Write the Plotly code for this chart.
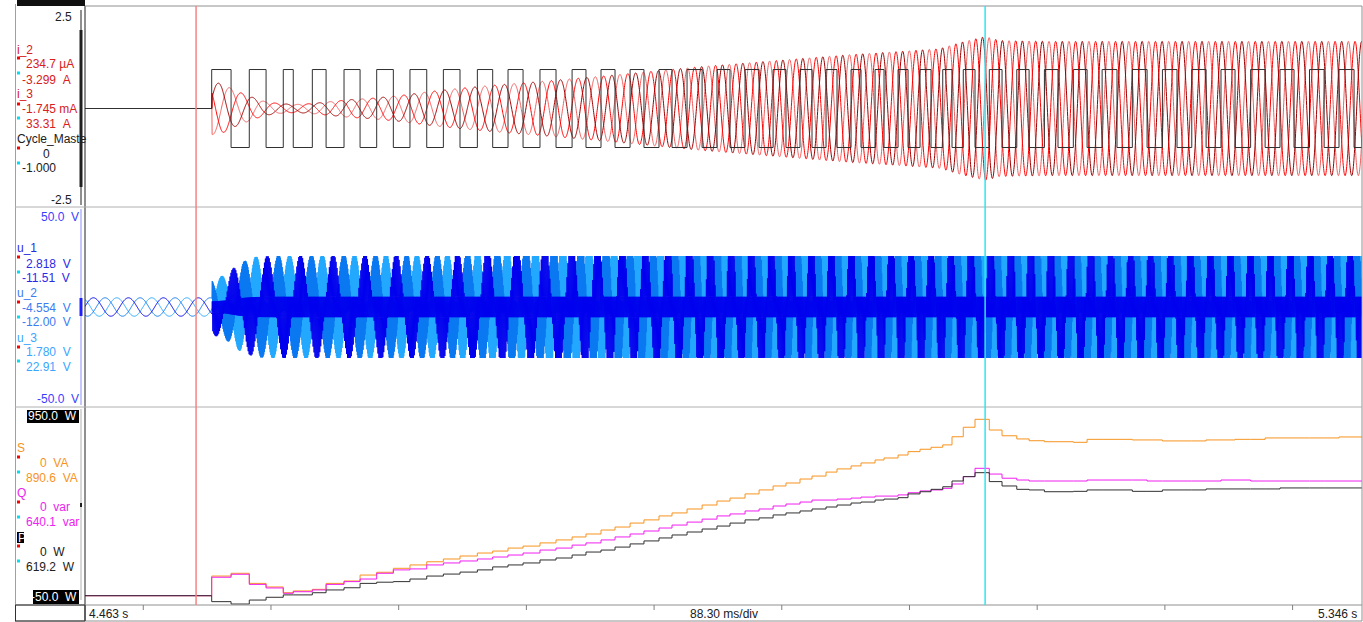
import numpy as np
import plotly.graph_objects as go

# ---------------- data ----------------
T0_S = 4.463            # left edge of record [s]
T_END_S = 5.346         # right edge [s]
SPAN_MS = 883.0         # 10 div x 88.30 ms
START_MS = 87.8         # drive start (ms after left edge)
CURSOR_RED_MS = 76.8
CURSOR_CYAN_MS = 622.4
TICK_MS = [40.3, 128.6, 216.9, 305.2, 393.5, 481.8, 570.1, 658.4, 746.7, 835.0]

# Cycle_Master edges (alternating: rise, fall, rise, ...), ms after left edge
CYCLE_EDGE_MS = [87.6, 101.0, 113.6, 125.2, 137.1, 144.0, 157.2, 166.7, 179.1, 190.2,
                 201.7, 213.2, 224.7, 236.3, 247.8, 259.3, 271.3, 281.9, 292.5, 302.9,
                 314.6, 325.7, 336.8, 346.4, 356.8, 366.5, 376.9, 386.5, 396.9, 405.9,
                 416.3, 426.7, 437.0, 446.0, 456.4, 466.1, 475.8, 484.7, 494.4, 502.7,
                 512.4, 520.0, 529.7, 536.6, 546.3, 552.5, 562.2, 569.1, 577.4, 585.0,
                 593.1, 599.5, 607.3, 615.4, 625.3, 634.1, 644.3, 652.8, 663.4, 672.8,
                 683.4, 692.9, 703.3, 713.6, 724.2, 734.4, 745.0, 755.1, 765.3, 775.2,
                 785.5, 795.2, 806.0, 816.0, 826.3, 836.0, 846.7, 856.8, 867.1, 877.5]
CYCLE_LEVELS = [-0.97, 0.0, 0.97]   # low, idle, high

# power values after each Cycle_Master edge
S_VA = [99, 113, 62, 44, 15, 24, 32, 62, 74, 104,
        118, 138, 155, 171, 185, 200, 215, 225, 240, 250,
        266, 281, 296, 311, 331, 346, 366, 382, 402, 417,
        437, 457, 477, 492, 513, 533, 553, 568, 588, 603,
        623, 639, 654, 669, 684, 694, 709, 726, 738, 748,
        760, 801, 849, 889, 835, 806, 790, 781, 776, 776,
        773, 788, 788, 788, 785, 785, 780, 780, 780, 785,
        785, 788, 788, 795, 795, 795, 795, 795, 800, 800]
Q_VAR = [93, 108, 57, 39, 12, 20, 29, 57, 71, 84,
         113, 130, 135, 155, 165, 175, 185, 195, 205, 215,
         230, 240, 255, 266, 281, 296, 311, 326, 341, 356,
         371, 386, 402, 412, 427, 437, 452, 462, 472, 482,
         482, 487, 492, 497, 502, 502, 508, 519, 528, 533,
         541, 563, 600, 642, 613, 592, 583, 578, 578, 578,
         578, 583, 583, 583, 583, 578, 578, 578, 578, 578,
         583, 583, 578, 578, 578, 578, 578, 578, 578, 578]
P_W = [-30, -42, -22, -8, 4, 4, 15, 29, 40, 62,
       68, 71, 84, 99, 109, 119, 130, 145, 155, 165,
       180, 190, 205, 220, 230, 245, 261, 276, 291, 306,
       321, 336, 351, 366, 382, 392, 407, 417, 427, 437,
       447, 457, 467, 472, 482, 487, 494, 513, 524, 536,
       549, 578, 600, 620, 575, 553, 536, 533, 524, 524,
       526, 533, 533, 533, 526, 526, 533, 533, 533, 538,
       538, 538, 538, 538, 543, 543, 543, 543, 543, 543]

# fundamental period of the drive (ms)
FUND_T_MS = [0.0, 87.8, 145.2, 217.8, 273.2, 328.5, 383.8, 425.3, 466.8, 883.0]
FUND_PERIOD_MS = [24.2, 24.2, 22.8, 21.4, 20.7, 18.7, 15.9, 14.5, 13.8, 13.8]

# current envelope (display units of the top panel)
I_ENV_T_MS = [87.8, 94.7, 103.7, 114.1, 124.5, 134.8, 145.2, 155.6, 169.4, 183.2,
              197.1, 217.8, 238.6, 259.3, 280.1, 314.6, 356.1, 390.7, 425.3, 459.8,
              494.4, 529.0, 563.6, 591.2, 605.1, 622.4, 632.7, 667.3, 883.0]
I_ENV_AMP = [0.65, 0.62, 0.45, 0.30, 0.17, 0.12, 0.10, 0.12, 0.17, 0.22,
             0.25, 0.32, 0.42, 0.50, 0.57, 0.67, 0.80, 0.92, 1.04, 1.14,
             1.24, 1.34, 1.42, 1.49, 1.64, 1.79, 1.69, 1.67, 1.67]

# voltages
U_PRE_AMP_V = 4.6
U_ENV_T_MS = [87.8, 96.8, 107.1, 117.5, 131.3, 883.0]
U_ENV_V = [14.0, 16.0, 22.0, 25.0, 25.5, 25.5]
U_GAIN_T_MS = [87.8, 252.4, 356.1, 425.3, 883.0]
U_GAIN = [1.0, 1.1, 1.5, 1.8, 1.8]

# ---------------- build traces ----------------
def to_s(ms):
    return T0_S + np.asarray(ms) / 1000.0

FONT = "Liberation Sans, Arial, sans-serif"
fig = go.Figure()

# phase of the fundamental
t = np.arange(0.0, SPAN_MS, 0.17)
per = np.interp(t, FUND_T_MS, FUND_PERIOD_MS)
theta = 2 * np.pi * np.cumsum(np.gradient(t) / per)
on = t >= START_MS

# currents
env = np.interp(t, I_ENV_T_MS, I_ENV_AMP) * on
i_cols = [("i_1", "#f06060"), ("i_2", "#ff0000"), ("i_3", "#a00000")]
for k, (nm, col) in enumerate(i_cols):
    y = env * np.sin(theta - 2 * np.pi * k / 3 + 0.6)
    fig.add_trace(go.Scatter(x=to_s(t), y=y, mode="lines", name=nm, yaxis="y",
                             line=dict(color=col, width=1, simplify=False), hoverinfo="skip"))

# Cycle_Master square wave
cx = [0.0]
cy = [CYCLE_LEVELS[1]]
for n, e in enumerate(CYCLE_EDGE_MS):
    cx.append(e)
    cy.append(CYCLE_LEVELS[2] if n % 2 == 0 else CYCLE_LEVELS[0])
cx.append(SPAN_MS)
cy.append(cy[-1])
fig.add_trace(go.Scatter(x=to_s(cx), y=cy, mode="lines", name="Cycle_Master", yaxis="y",
                         line=dict(color="#303030", width=1, shape="hv"), hoverinfo="skip"))

# voltages: pre-start sine + PWM bands after start
tu = np.arange(0.0, SPAN_MS, 0.22)
peru = np.interp(tu, FUND_T_MS, FUND_PERIOD_MS)
thu = 2 * np.pi * np.cumsum(np.gradient(tu) / peru)
uenv = np.interp(tu, U_ENV_T_MS, U_ENV_V)
gain = np.interp(tu, U_GAIN_T_MS, U_GAIN)
pre = tu < START_MS
u_cols = [("u_3", "#22a8ff", 2), ("u_2", "#0a78f0", 1), ("u_1", "#0000ee", 0)]
idx = np.arange(len(tu))
for nm, col, k in u_cols:
    s = np.sin(thu - 2 * np.pi * k / 3)
    m = np.clip(gain * s, -1, 1)
    if k == 0:
        lv = np.select([idx % 3 == 0, idx % 3 == 1], [uenv * m, 0.2 * uenv], -0.2 * uenv)
    else:
        lv = np.where(idx % 2 == 0, uenv * m, -0.12 * uenv * m)
    y = np.where(pre, U_PRE_AMP_V * s, lv)
    fig.add_trace(go.Scatter(x=to_s(tu), y=y, mode="lines", name=nm, yaxis="y2",
                             line=dict(color=col, width=1, simplify=False), hoverinfo="skip"))

# powers
px_ = [0.0] + CYCLE_EDGE_MS + [SPAN_MS]
for nm, vals, col in [("S", S_VA, "#f7931e"), ("Q", Q_VAR, "#f01ef0"), ("P", P_W, "#303030")]:
    yy = [0] + list(vals) + [vals[-1]]
    fig.add_trace(go.Scatter(x=to_s(px_), y=yy, mode="lines", name=nm, yaxis="y3",
                             line=dict(color=col, width=1, shape="hv"), hoverinfo="skip"))

# ---------------- layout helpers (pixel placement of decorations) ----------------
def PX(x):
    return (x - 85) / 1277.0

def PY(y):
    return (605 - y) / 599.0

shapes = []
anns = []

def hline(x0, x1, y, color, w=1):
    shapes.append(dict(type="line", xref="paper", yref="paper", x0=PX(x0), x1=PX(x1),
                       y0=PY(y), y1=PY(y), line=dict(color=color, width=w), layer="above"))

def vline(x, y0, y1, color, w=1):
    shapes.append(dict(type="line", xref="paper", yref="paper", x0=PX(x), x1=PX(x),
                       y0=PY(y0), y1=PY(y1), line=dict(color=color, width=w), layer="above"))

def rect(x0, x1, y0, y1, fill, line=None):
    shapes.append(dict(type="rect", xref="paper", yref="paper", x0=PX(x0), x1=PX(x1),
                       y0=PY(y0), y1=PY(y1), fillcolor=fill,
                       line=dict(color=line or fill, width=1 if line else 0), layer="above"))

def text(s, x, y, color, anchor="left", size=12):
    anns.append(dict(text=s.replace(" ", "\u00a0"), x=PX(x), y=PY(y), xref="paper", yref="paper",
                     xanchor=anchor, yanchor="middle", showarrow=False, borderpad=0,
                     font=dict(family=FONT, size=size, color=color)))

def sq(y, color):
    rect(17, 20, y - 1.5, y + 1.5, color)

RED_SQ, CY_SQ = "#ff0000", "#00e0f0"

# frames
vline(15.5, 4, 622, "#a0a0a0")
vline(85, 6, 621, "#202020")
vline(1362, 6, 621, "#909090")
hline(85, 1362, 6, "#909090")
hline(15, 1362, 207, "#b0b0b0")
hline(15, 1362, 407, "#b0b0b0")
hline(15, 1362, 605, "#909090")
hline(15, 1362, 621, "#909090")
rect(15.5, 85, 605, 621, "rgba(0,0,0,0)", "#303030")
rect(17, 85, 0, 6, "#101010")
for tm in TICK_MS:
    shapes.append(dict(type="line", xref="x", yref="paper", x0=T0_S + tm / 1000, x1=T0_S + tm / 1000,
                       y0=PY(605), y1=PY(610), line=dict(color="#808080", width=1)))

# scale bars
vline(81, 10, 205, "#202020")
vline(81, 30, 187, "#202020", 3)
vline(81, 209, 405, "#8c8cff")
vline(81, 298, 316, "#2020ff", 3)
vline(81, 409, 600, "#b0b0b0")
vline(81, 503, 507, "#202020", 2)

# cursors
for tm, col in [(CURSOR_RED_MS, "#f48484"), (CURSOR_CYAN_MS, "#30e4f4")]:
    shapes.append(dict(type="line", xref="x", yref="paper", x0=T0_S + tm / 1000, x1=T0_S + tm / 1000,
                       y0=PY(605), y1=PY(6), line=dict(color=col, width=1.5), layer="above"))

# top panel labels
IRED = "#d82020"
text("2.5", 73, 17, "#202020", "right")
text("i_2", 16, 50, IRED)
sq(58, RED_SQ); text("234.7 µA", 25, 64, IRED)
sq(73, CY_SQ); text("-3.299  A", 21, 80, IRED)
text("i_3", 16, 94, IRED)
sq(104, RED_SQ); text("-1.745 mA", 21, 109, IRED)
sq(118, CY_SQ); text("33.31  A", 25, 124, IRED)
text("Cycle_Maste", 16, 139, "#202020")
sq(148, RED_SQ); text("0", 42, 154, "#202020")
sq(163, CY_SQ); text("-1.000", 21, 168, "#202020")
text("-2.5", 73, 200, "#202020", "right")

# middle panel labels
text("50.0  V", 80, 217, "#3c3cff", "right")
U1, U2, U3 = "#2a2ae6", "#3c7cf2", "#3aa6ff"
text("u_1", 16, 248, U1)
sq(257, RED_SQ); text("2.818  V", 25, 264, U1)
sq(272, CY_SQ); text("-11.51  V", 21, 278, U1)
text("u_2", 16, 293, U2)
sq(302, RED_SQ); text("-4.554  V", 21, 308, U2)
sq(317, CY_SQ); text("-12.00  V", 21, 322, U2)
text("u_3", 16, 338, U3)
sq(347, RED_SQ); text("1.780  V", 25, 352, U3)
sq(361, CY_SQ); text("22.91  V", 25, 367, U3)
text("-50.0  V", 80, 399, "#3c3cff", "right")

# bottom panel labels
rect(27, 79, 410, 423, "#000000")
text("950.0  W", 78, 416.5, "#ffffff", "right")
SC, QC = "#f7931e", "#ee22ee"
text("S", 16, 448, SC)
sq(457, RED_SQ); text("0  VA", 39, 463, SC)
sq(472, CY_SQ); text("890.6  VA", 25, 478, SC)
text("Q", 16, 493, QC)
sq(502, RED_SQ); text("0  var", 39, 507, QC)
sq(517, CY_SQ); text("640.1  var", 25, 522, QC)
rect(17, 24, 532, 543, "#000000")
text("P", 17, 537.5, "#ffffff")
sq(546, RED_SQ); text("0  W", 39, 552, "#202020")
sq(561, CY_SQ); text("619.2  W", 25, 567, "#202020")
rect(33, 79, 590, 604, "#000000")
text("-50.0  W", 78, 597, "#ffffff", "right")

# time strip
text("4.463 s", 88, 613.5, "#202020")
text("88.30 ms/div", 724, 613.5, "#202020", "center")
text("5.346 s", 1358, 613.5, "#202020", "right")

fig.update_layout(
    width=1363, height=622,
    margin=dict(l=85, r=1, t=6, b=17),
    paper_bgcolor="white", plot_bgcolor="white",
    showlegend=False,
    xaxis=dict(range=[T0_S, T0_S + SPAN_MS / 1000], domain=[0, 1], anchor="y3", visible=False),
    yaxis=dict(domain=[PY(207), 1.0], range=[-2.45, 2.55], visible=False),
    yaxis2=dict(domain=[PY(407), PY(207)], range=[-50, 50], visible=False),
    yaxis3=dict(domain=[0.0, PY(407)], range=[-46.9, 951], visible=False),
    shapes=shapes, annotations=anns,
)
fig.write_html(
    "out.html",
    config={"displayModeBar": False, "staticPlot": True},
    post_script="document.body.style.margin='0px';document.body.style.overflow='hidden';",
)
